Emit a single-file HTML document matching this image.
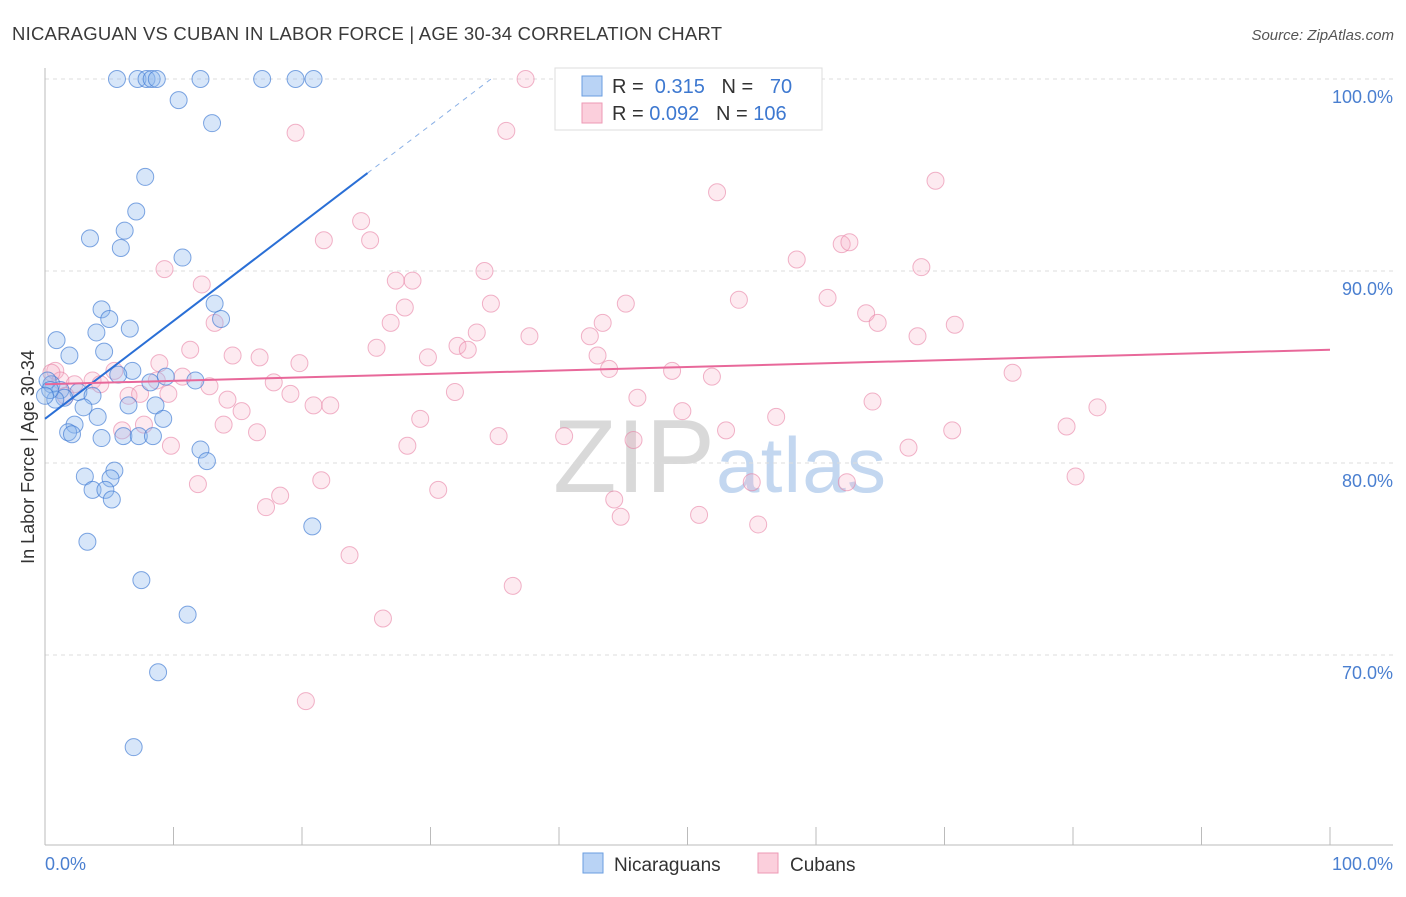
<!DOCTYPE html>
<html><head><meta charset="utf-8"><style>
body{margin:0;background:#fff;font-family:"Liberation Sans",sans-serif;}
svg text{font-family:"Liberation Sans",sans-serif;}
</style></head><body>
<svg id="c" width="1406" height="892" xmlns="http://www.w3.org/2000/svg">
<text x="12" y="40" font-size="18.5" fill="#3a3a3a" textLength="710">NICARAGUAN VS CUBAN IN LABOR FORCE | AGE 30-34 CORRELATION CHART</text>
<text x="1394" y="40" font-size="15" fill="#555" text-anchor="end" font-style="italic">Source: ZipAtlas.com</text>
<g>
<text x="553" y="492" font-size="104" fill="#d9d9d9" font-family="Liberation Serif, serif" textLength="162">ZIP</text>
<text x="716" y="492" font-size="78" fill="#c3d7f0" textLength="170">atlas</text>
</g>
<g id="grid"></g>
<g id="pts"></g>
<g id="lines"></g>
<text transform="translate(34,457) rotate(-90)" font-size="18" fill="#333" text-anchor="middle">In Labor Force | Age 30-34</text>
<text x="45" y="870" font-size="18" fill="#4a7fd0">0.0%</text>
<text x="1393" y="870" font-size="18" fill="#4a7fd0" text-anchor="end">100.0%</text>
<g>
<rect x="555" y="68" width="267" height="62" fill="#fff" stroke="#ddd"/>
<rect x="582" y="76" width="20" height="20" fill="#b9d3f5" stroke="#6a9ee0"/>
<rect x="582" y="103" width="20" height="20" fill="#fbcfdc" stroke="#ee9ab5"/>
<text x="612" y="93" font-size="20" fill="#333">R = <tspan fill="#3d78d0">&#160;0.315</tspan>&#160;&#160;&#160;N = <tspan fill="#3d78d0">&#160;&#160;70</tspan></text>
<text x="612" y="120" font-size="20" fill="#333">R = <tspan fill="#3d78d0">0.092</tspan>&#160;&#160;&#160;N = <tspan fill="#3d78d0">106</tspan></text>
</g>
<g>
<rect x="583" y="853" width="20" height="20" fill="#b9d3f5" stroke="#6a9ee0"/>
<text x="614" y="871" font-size="19" fill="#333">Nicaraguans</text>
<rect x="758" y="853" width="20" height="20" fill="#fbcfdc" stroke="#ee9ab5"/>
<text x="790" y="871" font-size="19" fill="#333">Cubans</text>
</g>
</svg>
<script>
const yTicks=[100,90,80,70];
const yTickLabels=["100.0%","90.0%","80.0%","70.0%"];
const xTicks=[0,10,20,30,40,50,60,70,80,90,100];
const nicX=[5.6,7.2,7.9,8.3,8.7,12.1,16.9,19.5,20.9,10.4,13.0,7.8,7.1,3.5,6.2,5.9,10.7,4.4,13.2,5.0,13.7,6.6,4.0,0.9,4.6,1.9,6.8,5.7,8.2,9.4,11.7,0.5,1.2,2.6,1.5,0.8,3.7,3.0,6.5,8.6,4.1,9.2,2.3,1.8,2.1,4.4,6.1,7.3,8.4,12.1,12.6,5.4,3.1,5.1,3.7,4.7,5.2,20.8,3.3,7.5,11.1,8.8,6.9,0.2,0.4,0.0];
const nicY=[100,100,100,100,100,100,100,100,100,98.9,97.7,94.9,93.1,91.7,92.1,91.2,90.7,88.0,88.3,87.5,87.5,87.0,86.8,86.4,85.8,85.6,84.8,84.6,84.2,84.5,84.3,84.1,83.8,83.7,83.4,83.3,83.5,82.9,83.0,83.0,82.4,82.3,82.0,81.6,81.5,81.3,81.4,81.4,81.4,80.7,80.1,79.6,79.3,79.2,78.6,78.6,78.1,76.7,75.9,73.9,72.1,69.1,65.2,84.3,83.8,83.5];
const cubX=[37.4,19.5,35.9,52.3,69.3,24.6,21.7,25.3,62.0,62.6,9.3,34.2,58.5,68.2,12.2,27.3,28.6,34.7,45.2,54.0,60.9,28.0,63.9,64.8,13.2,26.9,43.4,70.8,67.9,33.6,37.7,42.4,25.8,32.1,32.9,11.3,14.6,16.7,29.8,43.0,8.9,19.8,43.9,48.8,0.8,5.4,75.3,51.9,3.7,10.7,12.8,17.8,19.1,31.9,46.1,64.4,9.6,6.5,14.2,15.3,20.9,22.2,49.6,56.9,81.9,29.2,13.9,16.5,6.0,7.7,9.8,35.3,40.4,53.0,70.6,45.8,28.2,67.2,79.5,21.5,11.9,30.6,18.3,17.2,44.3,44.8,50.9,55.0,62.4,80.2,55.5,23.7,36.4,26.3,20.3,1.2,2.3,1.6,0.5,4.3,7.4,8.7];
const cubY=[100,97.2,97.3,94.1,94.7,92.6,91.6,91.6,91.4,91.5,90.1,90.0,90.6,90.2,89.3,89.5,89.5,88.3,88.3,88.5,88.6,88.1,87.8,87.3,87.3,87.3,87.3,87.2,86.6,86.8,86.6,86.6,86.0,86.1,85.9,85.9,85.6,85.5,85.5,85.6,85.2,85.2,84.9,84.8,84.8,84.8,84.7,84.5,84.3,84.5,84.0,84.2,83.6,83.7,83.4,83.2,83.6,83.5,83.3,82.7,83.0,83.0,82.7,82.4,82.9,82.3,82.0,81.6,81.7,82.0,80.9,81.4,81.4,81.7,81.7,81.2,80.9,80.8,81.9,79.1,78.9,78.6,78.3,77.7,78.1,77.2,77.3,79.0,79.0,79.3,76.8,75.2,73.6,71.9,67.6,84.3,84.1,83.5,84.7,84.1,83.6,84.3];
const nicTrend=[82.3,0.51];
const cubTrend=[84.1,0.018];
const X=v=>45+v*12.85, Y=v=>79+(100-v)*19.2;
const NS="http://www.w3.org/2000/svg";
function mk(t,a,p){const e=document.createElementNS(NS,t);for(const k in a)e.setAttribute(k,a[k]);p.appendChild(e);return e;}
const g=document.getElementById('grid');
yTicks.forEach((t,i)=>{
 const l=mk('line',{x1:45,x2:1393,y1:Y(t),y2:Y(t),stroke:'#dcdcdc','stroke-dasharray':'4,4'},g);
 
 
 const tx=mk('text',{x:1393,y:Y(t)+24,'font-size':18,fill:'#4a7fd0','text-anchor':'end'},g);
 tx.textContent=yTickLabels[i];
 
 
});
const ax=mk('line',{x1:45,x2:45,y1:68,y2:845,stroke:'#bbb'},g);


const bx=mk('line',{x1:45,x2:1393,y1:845,y2:845,stroke:'#bbb'},g);


xTicks.forEach(t=>{
 const l=mk('line',{x1:X(t),x2:X(t),y1:827,y2:845,stroke:'#bbb'},g);
 
 
});
const p=document.getElementById('pts');
cubX.forEach((v,i)=>{
 const c=mk('circle',{cx:X(v),cy:Y(cubY[i]),r:8.5,fill:'rgba(246,170,196,0.25)',stroke:'rgba(232,130,165,0.6)','stroke-width':1},p);
 
 
});
nicX.forEach((v,i)=>{
 const c=mk('circle',{cx:X(v),cy:Y(nicY[i]),r:8.5,fill:'rgba(140,182,238,0.35)',stroke:'rgba(60,120,210,0.65)','stroke-width':1},p);
 
 
});
const L=document.getElementById('lines');
const f=(tr,x)=>tr[0]+tr[1]*x;
const xEnd=(100-nicTrend[0])/nicTrend[1];
const nl=mk('line',{x1:X(0),y1:Y(f(nicTrend,0)),x2:X(25.1),y2:Y(f(nicTrend,25.1)),stroke:'#2a6fd6','stroke-width':2},L);


const nd=mk('line',{x1:X(25.1),y1:Y(f(nicTrend,25.1)),x2:X(xEnd),y2:Y(100),stroke:'#8ab0e6','stroke-width':1,'stroke-dasharray':'5,5'},L);


const cl=mk('line',{x1:X(0),y1:Y(f(cubTrend,0)),x2:X(100),y2:Y(f(cubTrend,100)),stroke:'#e8689a','stroke-width':2},L);


</script>
</body></html>
